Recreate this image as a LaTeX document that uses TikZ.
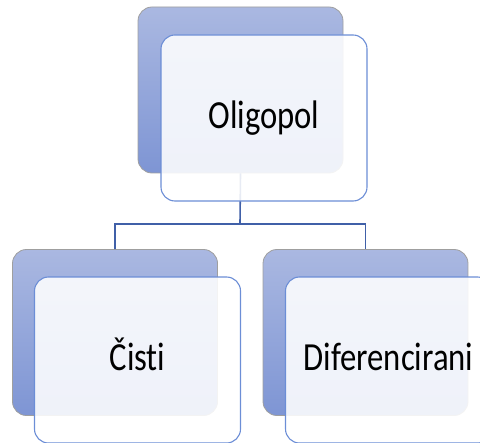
\documentclass[tikz,border=0pt]{standalone}
\usepackage{fontspec}
\setmainfont{Carlito}
\newfontfamily\cardfont{Carlito}[FakeStretch=0.82, Ligatures=NoCommon]
\usetikzlibrary{calc, positioning}
\definecolor{backTop}{RGB}{170,184,225}
\definecolor{backBot}{RGB}{126,149,212}
\definecolor{frontLine}{RGB}{108,142,214}
\definecolor{connBlue}{RGB}{64,96,168}

\begin{document}
\begin{tikzpicture}[x=1bp, y=-1bp,
    backbox/.style={rectangle, rounded corners=14bp, draw=gray!75, line width=0.8bp,
        top color=backTop, bottom color=backBot, minimum width=205bp, minimum height=166bp},
    frontbox/.style={rectangle, rounded corners=14bp, draw=frontLine, line width=1.1bp,
        fill=white, fill opacity=0.88, text opacity=1, minimum width=206bp, minimum height=166bp,
        font=\cardfont\fontsize{40}{48}\selectfont, text height=26bp, text depth=4.5bp},
    conn/.style={draw=connBlue, line width=1.6bp}]
    \useasboundingbox (0,0) rectangle (480,443);

    % back cards
    \node[backbox] (oligB) at (240.5, 90) {};
    \node[backbox] (cistiB) at (115, 332.5) {};
    \node[backbox] (difB) at (365.5, 332.5) {};

    % tree lines
    \coordinate (fork) at (240, 224);
    \draw[conn] (oligB.south) -- (fork) -| (cistiB.north);
    \draw[conn] (fork) -| (difB.north);

    % front cards with the labels
    \node[frontbox] (olig) at (264, 118) {Oligopol};
    \node[frontbox] (cisti) at (137.5, 360) {Čisti};
    \node[frontbox] (dif) at (388.5, 360) {Diferencirani};
\end{tikzpicture}
\end{document}
